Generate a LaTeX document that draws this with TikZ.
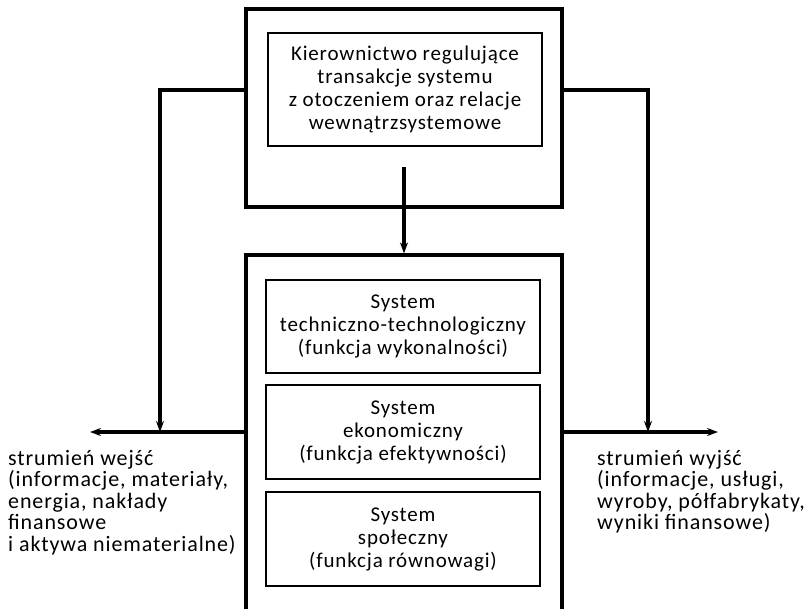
\documentclass[tikz,border=0pt]{standalone}
\usepackage{fontspec}
\setmainfont{Carlito}[LetterSpace=4]
\usetikzlibrary{arrows.meta}
\begin{document}
\begin{tikzpicture}[x=1pt,y=-1pt,
  outerbox/.style={draw,line width=3.2pt,minimum width=316pt,inner sep=0pt},
  innerbox/.style={draw,line width=2pt,minimum width=274pt,align=center,inner sep=0pt,font=\fontsize{21}{23}\selectfont},
  conn/.style={line width=3.2pt,-{Stealth[length=11pt,width=8pt]}},
  lbl/.style={align=left,inner sep=0pt,font=\fontsize{22}{21.5}\selectfont}]
\useasboundingbox (0,0) rectangle (811,608);
\clip (0,0) rectangle (811,608);
\node[outerbox,minimum height=198pt] (top) at (404,108) {};
\node[innerbox,minimum height=113pt] (mgmt) at (405,89.5) {Kierownictwo regulujące\\transakcje systemu\\z otoczeniem oraz relacje\\wewnątrzsystemowe};
\node[outerbox,minimum height=365pt] (bot) at (404,437.5) {};
\node[innerbox,minimum height=93pt] (s1) at (403,326.5) {System\\techniczno-technologiczny\\(funkcja wykonalności)};
\node[innerbox,minimum height=94pt] (s2) at (403,432) {System\\ekonomiczny\\(funkcja efektywności)};
\node[innerbox,minimum height=94pt] (s3) at (403,539) {System\\społeczny\\(funkcja równowagi)};
\coordinate (lt) at (160,90);
\coordinate (lb) at (90,432);
\coordinate (rt) at (648,90);
\coordinate (rb) at (718,432);
\coordinate (ds) at (404,167);
\draw[conn] (lt -| top.west) -- (lt) -- (lt |- lb);
\draw[conn] (lb -| bot.west) -- (lb);
\draw[conn] (rt -| top.east) -- (rt) -- (rt |- rb);
\draw[conn] (rb -| bot.east) -- (rb);
\draw[conn] (ds) -- (ds |- bot.north);
\node[lbl,anchor=north west] (in) at (8,450) {strumień wejść\\(informacje, materiały,\\energia, nakłady\\finansowe\\i aktywa niematerialne)};
\node[lbl,anchor=north west] (out) at (597,450) {strumień wyjść\\(informacje, usługi,\\wyroby, półfabrykaty,\\wyniki finansowe)};
\end{tikzpicture}
\end{document}
